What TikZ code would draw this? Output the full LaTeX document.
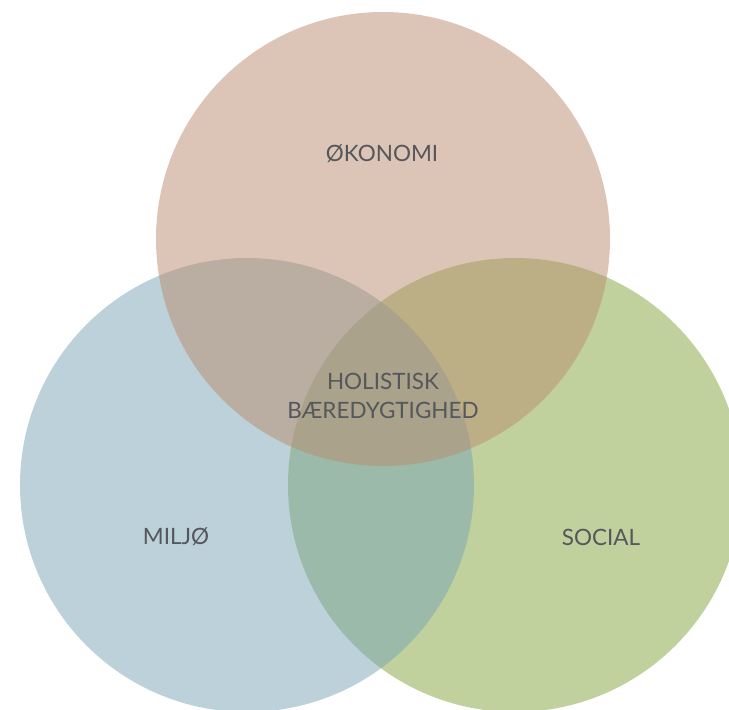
\documentclass[tikz,border=0pt]{standalone}
\usepackage{fontspec}
\setmainfont{Lato}
\usepackage{xcolor}
\usepackage{tikz}
\usetikzlibrary{positioning}
\definecolor{okocol}{RGB}{185,139,109}
\definecolor{miljocol}{RGB}{121,163,181}
\definecolor{socialcol}{RGB}{129,163,61}
\definecolor{labelgray}{RGB}{84,87,91}
\tikzset{
	bigcircle/.style={circle, inner sep=0pt, minimum size=454pt, fill opacity=0.5},
	labelnode/.style={text=labelgray, align=center, inner sep=0pt, font=\fontsize{22.5}{29}\selectfont}
}

\begin{document}
\begin{tikzpicture}[x=1pt,y=-1pt]
		\useasboundingbox (0,0) rectangle (729,710);
		\clip (0,0) rectangle (729,710);
		%Circles
		\node[bigcircle, fill=socialcol] at (515,485) (S) {};
		\node[bigcircle, fill=miljocol] at (247,485) (M) {};
		\node[bigcircle, fill=okocol] at (383,239) (O) {};
		%Labels
		\node[labelnode] at (382,154) (Ot) {ØKONOMI};
		\node[labelnode] at (176,537) (Mt) {MILJØ};
		\node[labelnode] at (601,537) (St) {SOCIAL};
		\node[labelnode] at (383,396) (H) {HOLISTISK\\BÆREDYGTIGHED};
	\end{tikzpicture}
\end{document}
